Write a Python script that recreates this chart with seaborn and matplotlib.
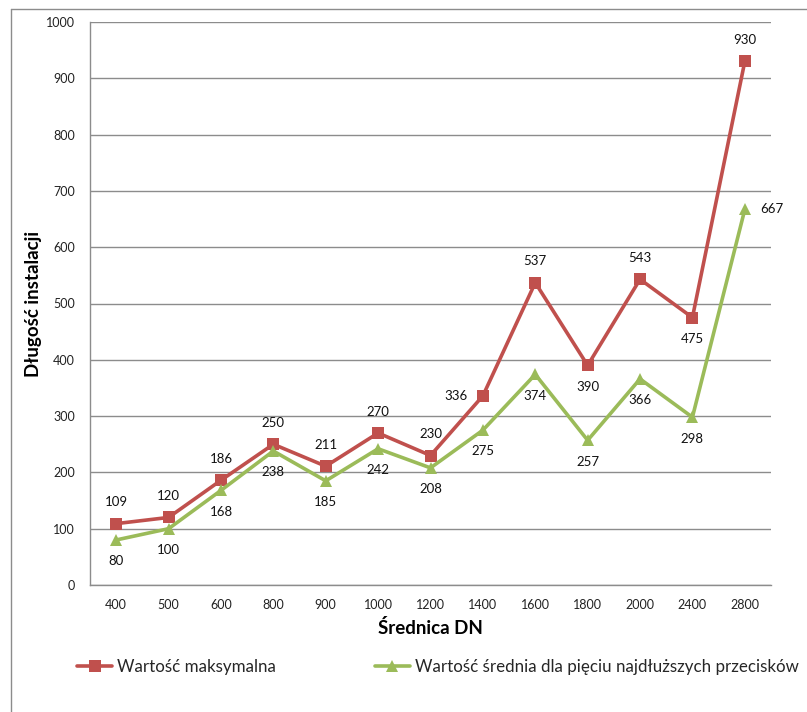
import matplotlib
matplotlib.use("Agg")
import matplotlib.pyplot as plt
from matplotlib.lines import Line2D
import seaborn as sns
import pandas as pd

categories = ["400", "500", "600", "800", "900", "1000", "1200", "1400", "1600", "1800", "2000", "2400", "2800"]
max_values = [109, 120, 186, 250, 211, 270, 230, 336, 537, 390, 543, 475, 930]
avg_values = [80, 100, 168, 238, 185, 242, 208, 275, 374, 257, 366, 298, 667]
series_names = ["Wartość maksymalna", "Wartość średnia dla pięciu najdłuższych przecisków"]
y_ticks = [0, 100, 200, 300, 400, 500, 600, 700, 800, 900, 1000]

# label placement per point (only styling)
max_pos = ["a"] * 7 + ["l", "a", "b", "a", "b", "a"]
avg_pos = ["b"] * 12 + ["r"]

sns.set_theme(style="white")
plt.rcParams["font.family"] = ["Lato", "DejaVu Sans"]

df = pd.DataFrame({
    "DN": categories * 2,
    "value": max_values + avg_values,
    "series": [series_names[0]] * len(categories) + [series_names[1]] * len(categories),
})

RED = "#C0504D"
GREEN = "#9BBB59"

fig = plt.figure(figsize=(8.07, 7.12), dpi=100)
ax = fig.add_axes([90 / 807, 1 - 585 / 712, (771 - 90) / 807, (585 - 22) / 712])

sns.lineplot(data=df, x="DN", y="value", hue="series", style="series",
             palette=[RED, GREEN], markers=["s", "^"], dashes=False,
             sort=False, linewidth=2.6, markersize=8, markeredgewidth=0,
             ax=ax, legend=True)

ax.set_ylim(0, 1000)
ax.set_xlim(-0.5, len(categories) - 0.5)
ax.set_yticks(y_ticks)
ax.yaxis.grid(True, color="#8C8C8C", linewidth=1)
ax.xaxis.grid(False)
for s in ["top", "right"]:
    ax.spines[s].set_visible(False)
for s in ["left", "bottom"]:
    ax.spines[s].set_color("#8C8C8C")
    ax.spines[s].set_linewidth(1)
ax.set_xticks(range(len(categories)))
ax.set_xticklabels(categories)
ax.set_xticks([i - 0.5 for i in range(len(categories) + 1)], minor=True)
ax.tick_params(axis="x", which="major", length=0, labelsize=9, pad=10, colors="#222222")
ax.tick_params(axis="x", which="minor", length=5, color="#8C8C8C", width=1, direction="out")
ax.tick_params(axis="y", which="major", length=5, color="#8C8C8C", width=1, direction="out",
               labelsize=9, pad=6, colors="#222222")

ax.set_xlabel("Średnica DN", fontsize=13.5, fontweight="bold", labelpad=6, color="black")
ax.set_ylabel("Długość instalacji", fontsize=13.5, fontweight="bold", labelpad=3, color="black")

offsets = {"a": (0, 11, "center", "bottom"), "b": (0, -11, "center", "top"),
           "l": (-11, 0, "right", "center"), "r": (11, 0, "left", "center")}
for vals, poss in [(max_values, max_pos), (avg_values, avg_pos)]:
    for i, (v, p) in enumerate(zip(vals, poss)):
        dx, dy, ha, va = offsets[p]
        ax.annotate(str(v), (i, v), xytext=(dx, dy), textcoords="offset points",
                    ha=ha, va=va, fontsize=9.5, color="#111111")

handles, labels = ax.get_legend_handles_labels()
ax.get_legend().remove()
fig.legend(handles, labels, loc="center left", bbox_to_anchor=(70 / 807, 1 - 667 / 712),
           ncol=2, frameon=False, fontsize=12.2, handlelength=2.1, handletextpad=0.3,
           columnspacing=5.8, borderaxespad=0)

# outer chart frame (cropped at right and bottom)
x0 = 10.5 / 807
ytop = 1 - 8.5 / 712
fig.lines.append(Line2D([x0, x0], [0, ytop], transform=fig.transFigure, color="#8C8C8C", linewidth=1))
fig.lines.append(Line2D([x0, 1], [ytop, ytop], transform=fig.transFigure, color="#8C8C8C", linewidth=1))

fig.savefig("out.png", dpi=100)
